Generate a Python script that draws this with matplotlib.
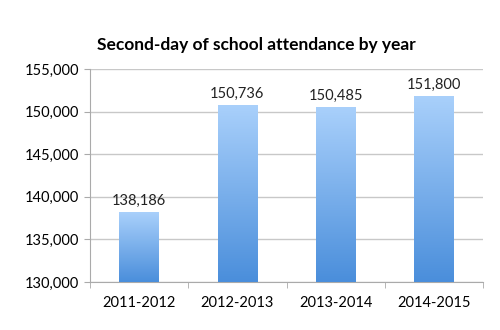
import numpy as np
import matplotlib.pyplot as plt
from matplotlib.colors import LinearSegmentedColormap

years = ['2011-2012', '2012-2013', '2013-2014', '2014-2015']
attendance = [138186, 150736, 150485, 151800]
labels = ['138,186', '150,736', '150,485', '151,800']

plt.rcParams['font.family'] = ['Lato', 'DejaVu Sans']

fig = plt.figure(figsize=(5, 3.3), dpi=100)
ax = fig.add_axes([0.18, 0.1455, 0.786, 0.6455])

ymin, ymax = 130000, 155000
x = np.arange(len(years))
bars = ax.bar(x, attendance, width=0.4, bottom=0, color='none', zorder=2)

# gradient fill, dark at bottom, light at top
cmap = LinearSegmentedColormap.from_list('grad', ['#4a8edb', '#a9d0fb'])
grad = np.linspace(0, 1, 256).reshape(-1, 1)
for b, lab in zip(bars, labels):
    x0 = b.get_x()
    w = b.get_width()
    h = b.get_height()
    ax.imshow(grad, cmap=cmap, origin='lower', aspect='auto',
              extent=[x0, x0 + w, ymin, h], zorder=3)
    ax.text(x0 + w / 2, h + 500, lab, ha='center', va='bottom',
            fontsize=10.5, color='#222222')

ax.set_xlim(-0.5, len(years) - 0.5)
ax.set_ylim(ymin, ymax)
ax.set_yticks(range(ymin, ymax + 1, 5000))
ax.set_yticklabels([f'{v:,}' for v in range(ymin, ymax + 1, 5000)])
ax.set_xticks(x)
ax.set_xticklabels(years)
ax.set_xticks(np.arange(-0.5, len(years)), minor=True)
ax.tick_params(axis='x', which='major', length=0, pad=10, labelsize=10.5)
ax.tick_params(axis='x', which='minor', length=4, color='#aaaaaa')
ax.tick_params(axis='y', length=4, color='#aaaaaa', labelsize=10.5, pad=4)
ax.yaxis.grid(True, color='#c8c8c8', linewidth=1)
ax.set_axisbelow(True)
for s in ['top', 'right']:
    ax.spines[s].set_visible(False)
for s in ['left', 'bottom']:
    ax.spines[s].set_color('#aaaaaa')

fig.text(0.512, 0.864, 'Second-day of school attendance by year',
         ha='center', va='center', fontsize=12.5, fontweight='bold')

fig.savefig('out.png', dpi=100)
